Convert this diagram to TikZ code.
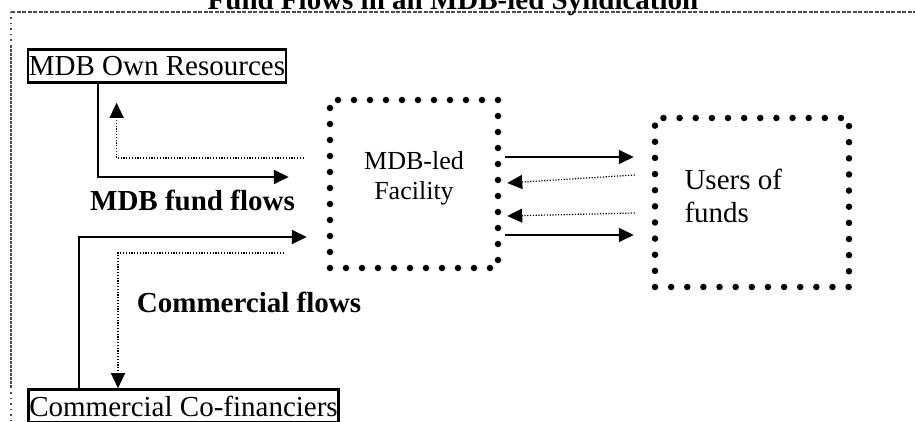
\documentclass[tikz,border=0pt]{standalone}
\usepackage{fontspec}
\setmainfont{Liberation Serif}
\usetikzlibrary{calc}
\usetikzlibrary{decorations}
\usetikzlibrary{arrows.meta}
\tikzset{>=latex}
\colorlet{framegray}{black!70}

\tikzset{
  box/.style={draw, line width=2.6pt, inner xsep=1pt, inner ysep=0pt,
    minimum height=33pt, font=\fontsize{29}{33}\selectfont},
  dotbox/.style={draw, line width=6.5pt, line cap=round,
    dash pattern=on 0pt off 16pt, dash expand off},
  flow/.style={-{Triangle[length=15pt,width=14pt]}, line width=1.8pt},
  back/.style={-{Triangle[length=15pt,width=14pt]}, line width=1.2pt,
    dash pattern=on 1.2pt off 1.6pt},
  bigbold/.style={font=\bfseries\fontsize{29}{33}\selectfont},
}

\begin{document}
\begin{tikzpicture}[x=1pt,y=1pt]
  \useasboundingbox (0,0) rectangle (915,422);

    % FRAME
    \draw[framegray, line width=1.3pt, dash pattern=on 4pt off 1.5pt] (11,410) -- (915,410);
    \draw[framegray, line width=1.3pt, dash pattern=on 1.5pt off 4pt] (11,410) -- (11,377);
    \draw[framegray, line width=1.3pt, dash pattern=on 3pt off 1pt] (11,377) -- (11,35);
    \draw[framegray, line width=1.3pt, dash pattern=on 1.5pt off 4pt] (11,35) -- (11,0);

    \node[bigbold, anchor=base] (title) at (453,412) {Fund Flows in an MDB-led Syndication};

    % SOURCES AND FACILITY
    \node[box] (own) at (157,356) {MDB Own Resources};
    \node[box] (co) at (183.5,16) {Commercial Co-financiers};
    \node[dotbox, minimum width=168pt, minimum height=168pt] (fac) at (414,238) {};
    \node[dotbox, minimum width=194pt, minimum height=169pt] (users) at (752,219.5) {};

    % base anchor sits on the last line
    \node[align=center, font=\fontsize{26}{30}\selectfont, anchor=base] (facname)
        at (414,222) {MDB-led\\Facility};
    \node[align=left, font=\fontsize{29}{33}\selectfont, anchor=base west] (usersname)
        at (681,199) {Users of\\funds};

    \node[bigbold, anchor=base] (mdbflows) at (192.5,211) {MDB fund flows};
    \node[bigbold, anchor=base] (comflows) at (249,109) {Commercial flows};

    % FLOWS
    \draw[flow] ([xshift=71pt]own.south west) |- ($(fac.west)+(-38,7)$);
    \draw[back] ($(fac.west)+(-23,26)$) -| ([xshift=90pt,yshift=-19pt]own.south west);
    \draw[flow] ([xshift=52pt]co.north west) |- ($(fac.west)+(-20,-53)$);
    \draw[back] ($(fac.west)+(-43,-69)$) -| ([xshift=91pt]co.north west);

    \draw[flow] ($(fac.east)+(4,27)$) -- ($(users.west)+(-18,45.5)$);
    \draw[back] ($(users.west)+(-17,27.5)$) -- ($(fac.east)+(6,1)$);
    \draw[back] ($(users.west)+(-17,-10.5)$) -- ($(fac.east)+(6,-32)$);
    \draw[flow] ($(fac.east)+(4,-51)$) -- ($(users.west)+(-18,-32.5)$);

\end{tikzpicture}
\end{document}
